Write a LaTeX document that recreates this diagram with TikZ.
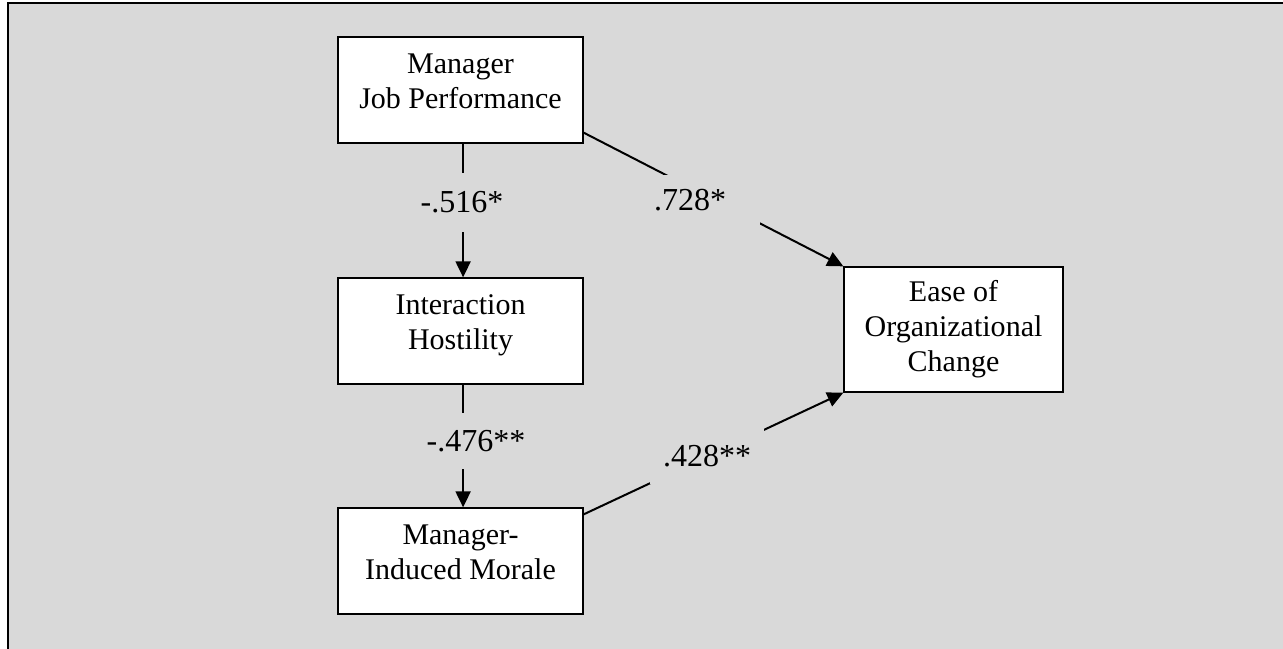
\documentclass[tikz,border=0pt]{standalone}
\usepackage{fontspec}
\setmainfont{Liberation Serif}
\usetikzlibrary{arrows.meta}
\definecolor{panel}{RGB}{217,217,217}
\newcommand\boxfont{\fontsize{15pt}{17.3pt}\selectfont}
\newcommand\coeffont{\fontsize{16pt}{18pt}\selectfont}
% lifts a stacked label a little above the middle of its box
\newcommand\upper[1]{\raisebox{3pt}[\height][\depth]{\begin{tabular}{@{}c@{}}#1\end{tabular}}}
\begin{document}
\begin{tikzpicture}[x=0.5pt,y=-0.5pt,
  box/.style={draw=black, line width=0.65pt, fill=white, inner sep=0pt,
    minimum width=122.5pt, minimum height=53pt, font=\boxfont},
  link/.style={line width=1pt, -{Triangle[length=8pt,width=7.5pt]}},
  coef/.style={fill=panel, inner sep=0pt, font=\coeffont}]
\useasboundingbox (0,0) rectangle (1283,648);
\clip (0,0) rectangle (1283,648);
\fill[white] (0,0) rectangle (1283,648);
% grey panel with its frame
\draw[line width=1.2pt, fill=panel] (8,3) rectangle (1320,690);

% variables
\node[box] (perf) at (460.5,90) {\upper{Manager\\Job Performance}};
\node[box] (host) at (460.5,331) {\upper{Interaction\\Hostility}};
\node[box] (morale) at (460.5,561) {\upper{Manager-\\Induced Morale}};
\node[box, minimum width=109.5pt, minimum height=62.5pt] (ease) at (953.5,329.5)
  {\begin{tabular}{@{}c@{}}Ease of\\Organizational\\Change\end{tabular}};

% paths with their coefficients
\draw[link] ([xshift=1.3pt]perf.south) -- ([xshift=1.3pt]host.north);
\node[coef, minimum width=40pt, minimum height=29.5pt] (c1) at (462,202.5) {-.516*};

\draw[link] ([xshift=1.3pt]host.south) -- ([xshift=1.3pt]morale.north);
\node[coef, minimum width=50pt, minimum height=28pt] (c2) at (476,441) {-.476**};

\draw[link] ([yshift=5.5pt]perf.south east) -- (ease.north west);
\node[coef, minimum width=55pt, minimum height=25pt] (c3) at (705,200)
  {\makebox[51pt][l]{.728*}};

\draw[link] ([yshift=-3.5pt]morale.north east) -- (ease.south west);
\node[coef, minimum width=57pt, minimum height=28pt] (c4) at (707,456) {.428**};
\end{tikzpicture}
\end{document}
